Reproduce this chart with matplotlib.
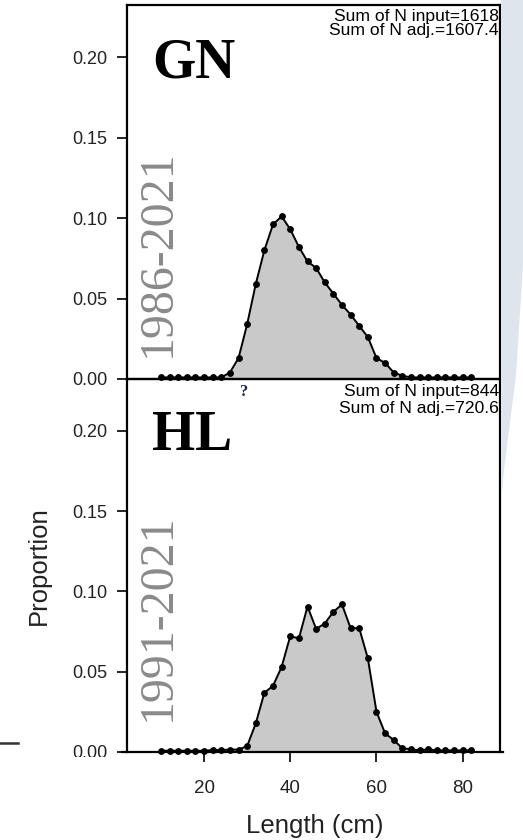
import matplotlib
matplotlib.use("Agg")
import matplotlib.pyplot as plt
from matplotlib.patches import Polygon, Rectangle
from matplotlib.lines import Line2D

# Length composition (proportion at length), 2 cm bins
length_bins = [10, 12, 14, 16, 18, 20, 22, 24, 26, 28, 30, 32, 34, 36, 38, 40, 42, 44, 46,
               48, 50, 52, 54, 56, 58, 60, 62, 64, 66, 68, 70, 72, 74, 76, 78, 80, 82]

gn_prop = [0.001, 0.001, 0.001, 0.001, 0.001, 0.001, 0.001, 0.001, 0.004, 0.013,
           0.034, 0.059, 0.080, 0.096, 0.101, 0.093, 0.082, 0.073, 0.069, 0.060,
           0.053, 0.046, 0.040, 0.033, 0.026, 0.013, 0.010, 0.004, 0.002, 0.001,
           0.001, 0.001, 0.001, 0.001, 0.001, 0.001, 0.001]

hl_prop = [0.0008, 0.0008, 0.0008, 0.0008, 0.0008, 0.0008, 0.0012, 0.0012, 0.0015, 0.0015,
           0.0037, 0.0178, 0.0369, 0.0412, 0.0530, 0.0722, 0.0707, 0.0906, 0.0767, 0.0800,
           0.0873, 0.0919, 0.0771, 0.0771, 0.0583, 0.0251, 0.0116, 0.0075, 0.0023, 0.0017,
           0.0010, 0.0017, 0.0010, 0.0010, 0.0010, 0.0010, 0.0010]

fleets = ["GN", "HL"]
year_ranges = ["1986-2021", "1991-2021"]
n_input = ["1618", "844"]
n_adj = ["1607.4", "720.6"]
y_ticks = [0.00, 0.05, 0.10, 0.15, 0.20]
x_ticks = [20, 40, 60, 80]

W, H = 523, 840
fig = plt.figure(figsize=(W / 100, H / 100), dpi=100)
fig.patch.set_facecolor("white")


def fx(px):
    return px / W


def fy(py):
    return 1 - py / H


# soft decorative sweep along the right edge
sweep = Polygon([(fx(503), fy(0)), (fx(523), fy(0)), (fx(523), fy(265)),
                 (fx(516), fy(375)), (fx(504), fy(470)), (fx(501), fy(505)),
                 (fx(501), fy(0))],
                closed=True, transform=fig.transFigure, facecolor="#dee5ed",
                edgecolor="none", zorder=0)
fig.patches.append(sweep)

left, right = fx(127), fx(500)
top_axes = fig.add_axes([left, fy(379), right - left, fy(5) - fy(379)])
bot_axes = fig.add_axes([left, fy(752), right - left, fy(379) - fy(752)])

xlim = (2.13, 88.65)
ylim = (0.0, 0.2323)

series = [gn_prop, hl_prop]
sum_baselines = [(20.5, 34.5), (396.0, 413.3)]
label_baselines = [78, 450]
year_centers = [253, 617]

for i, ax in enumerate([top_axes, bot_axes]):
    ax.set_facecolor("none")
    y = series[i]
    ax.fill_between(length_bins, 0, y, color="#c9c9c9", lw=0, zorder=1)
    ax.plot(length_bins, y, "-o", color="black", lw=1.4, ms=3.9, zorder=3,
            clip_on=False)
    ax.set_xlim(*xlim)
    ax.set_ylim(*ylim)
    ax.set_yticks(y_ticks)
    ax.set_yticklabels([f"{t:.2f}" for t in y_ticks])
    ax.tick_params(axis="y", direction="out", length=7.2, width=1.2,
                   labelsize=13, labelcolor="#222222", pad=7)
    for lab in ax.get_yticklabels():
        lab.set_family("Liberation Sans")
    for s in ["left", "right", "top", "bottom"]:
        ax.spines[s].set_linewidth(1.6)
        ax.spines[s].set_color("black")

    # fleet label
    fig.text(fx(152), fy(label_baselines[i]), fleets[i], family="Liberation Serif",
             weight="bold", fontsize=40, color="black", ha="left", va="baseline")
    # year range
    fig.text(fx(158), fy(year_centers[i]), year_ranges[i], family="Liberation Serif",
             fontsize=34.5, color="#8a8a8a", rotation=90, ha="center", va="center")
    # sample size annotations
    b1, b2 = sum_baselines[i]
    fig.text(fx(499), fy(b1), f"Sum of N input={n_input[i]}", family="Liberation Sans",
             fontsize=12.6, color="black", ha="right", va="baseline")
    fig.text(fx(499), fy(b2), f"Sum of N adj.={n_adj[i]}", family="Liberation Sans",
             fontsize=12.6, color="black", ha="right", va="baseline")

top_axes.set_xticks([])
bot_axes.spines["bottom"].set_visible(False)
bot_axes.plot([0.97, 89.35], [0, 0], color="black", lw=1.6, clip_on=False, zorder=4)
bot_axes.set_xticks(x_ticks)
bot_axes.tick_params(axis="x", direction="out", length=7.2, width=1.2,
                     labelsize=13.5, labelcolor="#222222", pad=13)
for lab in bot_axes.get_xticklabels():
    lab.set_family("Liberation Sans")

fig.text(fx(315), fy(826), "Length (cm)", family="Liberation Sans", fontsize=18.5,
         color="#222222", ha="center", va="center")
fig.text(fx(39), fy(566), "Proportion", family="Liberation Sans", fontsize=18.5,
         color="#222222", ha="center", va="center", rotation=90)

fig.text(fx(244), fy(392), "?", family="Liberation Serif", weight="bold",
         fontsize=12, color="#1a2a48", ha="center", va="center")

fig.lines.append(Line2D([fx(0), fx(18)], [fy(742.5), fy(742.5)], color="#333333",
                        lw=1.8, transform=fig.transFigure))

# lower edge of the panel area trims the last y label
fig.patches.append(Rectangle((fx(55), fy(775)), fx(62), fy(757) - fy(775),
                             transform=fig.transFigure, facecolor="white",
                             edgecolor="none", zorder=10))

fig.savefig("out.png", dpi=100, facecolor="white")
